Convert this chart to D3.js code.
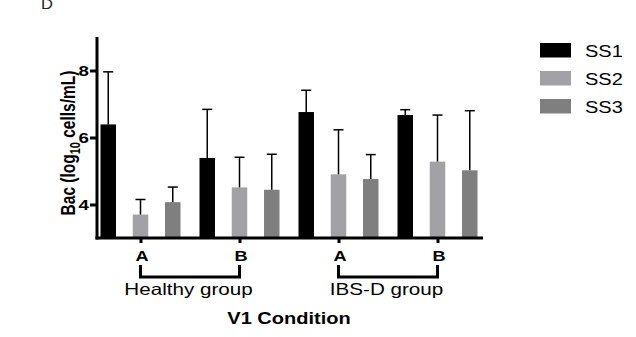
<!DOCTYPE html>
<html>
<head>
<meta charset="utf-8">
<style>
  body { margin: 0; background: #fff; }
  text { font-family: "Liberation Sans", Arial, sans-serif; }
</style>
</head>
<body>
<svg id="chart" width="636" height="337"></svg>
<script src="https://cdn.jsdelivr.net/npm/d3@7"></script>
<script>
// data
const groups = ["Healthy A", "Healthy B", "IBS-D A", "IBS-D B"];
const tickLabels = ["A", "B", "A", "B"];
const series = ["SS1", "SS2", "SS3"];
const colors = ["#000000", "#a2a2a6", "#7f7f7f"];
const ss1 = [6.39, 5.39, 6.76, 6.67];
const ss2 = [3.70, 4.51, 4.90, 5.28];
const ss3 = [4.07, 4.44, 4.76, 5.02];
const ss1Err = [7.96, 6.84, 7.41, 6.83];
const ss2Err = [4.15, 5.41, 6.23, 6.67];
const ss3Err = [4.52, 5.50, 5.49, 6.80];
const yTicks = [4, 6, 8];
const brackets = [
  { label: "Healthy group", from: 0, to: 1 },
  { label: "IBS-D group", from: 2, to: 3 }
];

const values = [ss1, ss2, ss3];
const errs = [ss1Err, ss2Err, ss3Err];

// the original figure is a bit stretched sideways, so text is widened too
const SX = 1.25;

const svg = d3.select("#chart");
const axisX = 97, axisRight = 483, axisTop = 37, axisBottom = 238;

const y = d3.scaleLinear().domain([3, 9]).range([axisBottom, axisTop]);
const x = d3.scalePoint().domain(groups).range([140.5, 437.5]);
const inner = d3.scaleBand().domain(series).range([-40, 40]).paddingInner(0.52).paddingOuter(0);
const bw = inner.bandwidth();

function label(px, py, str, size, bold, anchor) {
  return svg.append("text")
    .attr("transform", `translate(${px},${py}) scale(${SX},1)`)
    .attr("text-anchor", anchor || "start")
    .attr("font-size", size)
    .attr("font-weight", bold ? "bold" : "normal")
    .text(str);
}

// bars + error bars
series.forEach((s, si) => {
  const g = svg.append("g");
  groups.forEach((grp, gi) => {
    const bx = x(grp) + inner(s);
    const cx = bx + bw / 2;
    g.append("rect")
      .attr("x", bx).attr("width", bw)
      .attr("y", y(values[si][gi]))
      .attr("height", y(3) - y(values[si][gi]))
      .attr("fill", colors[si]);
    g.append("line")
      .attr("x1", cx).attr("x2", cx)
      .attr("y1", y(values[si][gi])).attr("y2", y(errs[si][gi]))
      .attr("stroke", "#000").attr("stroke-width", 1.5);
    g.append("line")
      .attr("x1", cx - 5).attr("x2", cx + 5)
      .attr("y1", y(errs[si][gi])).attr("y2", y(errs[si][gi]))
      .attr("stroke", "#000").attr("stroke-width", 1.5);
  });
});

// y axis
const yAxis = svg.append("g")
  .attr("transform", `translate(${axisX},0)`)
  .call(d3.axisLeft(y).tickValues(yTicks).tickSize(7).tickFormat(d3.format("d")));
yAxis.select(".domain").attr("d", `M0,${axisTop}V${axisBottom + 1.5}`).attr("stroke-width", 3);
yAxis.selectAll(".tick line").attr("stroke-width", 3);
yAxis.selectAll(".tick text")
  .attr("x", 0)
  .attr("transform", `translate(-8,0) scale(${SX},1)`)
  .attr("font-size", 15).attr("font-weight", "bold")
  .attr("font-family", "Liberation Sans, Arial, sans-serif").attr("fill", "#000");

// x axis
const xAxis = svg.append("g")
  .attr("transform", `translate(0,${axisBottom})`)
  .call(d3.axisBottom(x).tickSize(5).tickPadding(6).tickFormat((d, i) => tickLabels[i]));
xAxis.select(".domain").attr("d", `M${axisX - 1.5},0H${axisRight}`).attr("stroke-width", 3);
xAxis.selectAll(".tick line").attr("stroke-width", 3);
xAxis.selectAll(".tick text")
  .attr("y", 0).attr("dy", null)
  .attr("transform", `translate(1,22.5) scale(${SX},1)`)
  .attr("font-size", 14.5).attr("font-weight", "bold")
  .attr("font-family", "Liberation Sans, Arial, sans-serif").attr("fill", "#000");

// group brackets
brackets.forEach(b => {
  const x1 = x(groups[b.from]), x2 = x(groups[b.to]);
  svg.append("path")
    .attr("d", `M${x1},265V277H${x2}V265`)
    .attr("fill", "none").attr("stroke", "#000").attr("stroke-width", 3);
  label((x1 + x2) / 2 - 1.5, 295, b.label, 16.5, false, "middle");
});

// axis titles
label(289, 324, "V1 Condition", 16, true, "middle");

const yt = svg.append("text")
  .attr("transform", `translate(75,143) rotate(-90) scale(1,${SX})`)
  .attr("text-anchor", "middle").attr("font-size", 15.5).attr("font-weight", "bold");
yt.append("tspan").text("Bac (log");
yt.append("tspan").attr("font-size", 11).attr("dy", 4).text("10");
yt.append("tspan").attr("dy", -4).text(" cells/mL)");

// legend
series.forEach((s, i) => {
  svg.append("rect")
    .attr("x", 540).attr("y", 43 + i * 28).attr("width", 31).attr("height", 14.5)
    .attr("fill", colors[i]);
  label(585, 57 + i * 28, s, 16, false);
});

// panel letter (cut off at the top edge in the original too)
svg.append("text")
  .attr("transform", "translate(41,9) scale(1.1,1)")
  .attr("font-family", "Liberation Serif, serif").attr("font-size", 15).attr("fill", "#222")
  .text("D");
</script>
</body>
</html>
